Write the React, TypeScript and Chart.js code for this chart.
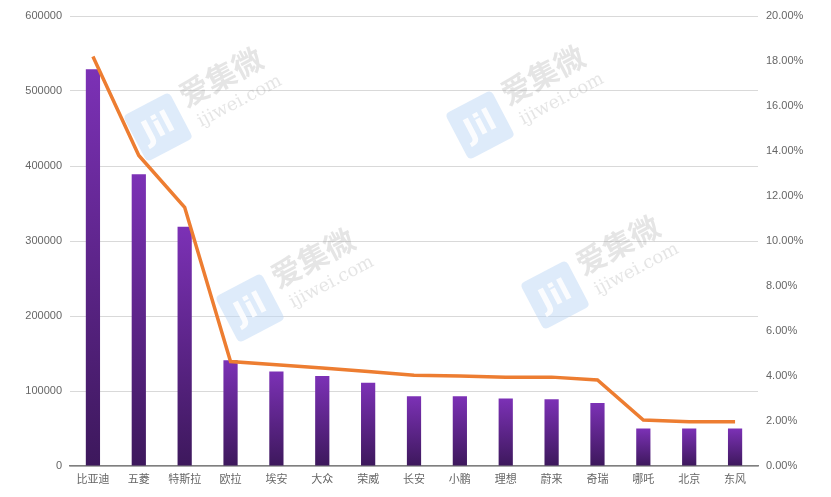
import React, { useEffect, useRef } from "react";
import { Chart, registerables } from "chart.js";

Chart.register(...registerables);

const categories = ["比亚迪", "五菱", "特斯拉", "欧拉", "埃安", "大众", "荣威", "长安", "小鹏", "理想", "蔚来", "奇瑞", "哪吒", "北京", "东风"];
const salesValues = [529000, 389000, 319000, 141000, 126000, 120000, 111000, 93000, 93000, 90000, 89000, 84000, 50000, 50000, 50000];
const shareValues = [18.2, 13.8, 11.5, 4.64, 4.5, 4.36, 4.2, 4.03, 4.0, 3.95, 3.95, 3.82, 2.04, 1.97, 1.97];
const leftTicks = [0, 100000, 200000, 300000, 400000, 500000, 600000];
const rightTicks = [0, 2, 4, 6, 8, 10, 12, 14, 16, 18, 20];

const FONT = "'Liberation Sans', 'Noto Sans CJK SC', sans-serif";

function drawWatermark(ctx: CanvasRenderingContext2D, cx: number, cy: number) {
  ctx.save();
  ctx.translate(cx, cy);
  ctx.rotate(-Math.PI / 6.5);
  const s = 52;
  ctx.fillStyle = "rgba(190, 216, 246, 0.5)";
  const r = 5;
  ctx.beginPath();
  ctx.moveTo(-s / 2 + r, -s / 2);
  ctx.lineTo(s / 2 - r, -s / 2);
  ctx.quadraticCurveTo(s / 2, -s / 2, s / 2, -s / 2 + r);
  ctx.lineTo(s / 2, s / 2 - r);
  ctx.quadraticCurveTo(s / 2, s / 2, s / 2 - r, s / 2);
  ctx.lineTo(-s / 2 + r, s / 2);
  ctx.quadraticCurveTo(-s / 2, s / 2, -s / 2, s / 2 - r);
  ctx.lineTo(-s / 2, -s / 2 + r);
  ctx.quadraticCurveTo(-s / 2, -s / 2, -s / 2 + r, -s / 2);
  ctx.fill();
  ctx.fillStyle = "rgba(255,255,255,0.9)";
  ctx.font = "bold 30px 'DejaVu Sans', sans-serif";
  ctx.textAlign = "center";
  ctx.textBaseline = "middle";
  ctx.fillText("Jil", 0, 2);
  ctx.fillStyle = "rgba(150,150,150,0.25)";
  ctx.textAlign = "left";
  ctx.textBaseline = "alphabetic";
  ctx.font = "bold 30px 'Noto Sans CJK SC', sans-serif";
  ctx.fillText("爱集微", 34, -4);
  ctx.font = "18px 'DejaVu Serif', serif";
  ctx.fillText("ijiwei.com", 38, 20);
  ctx.restore();
}

const watermarkPlugin = {
  id: "watermarks",
  beforeDatasetsDraw(chart: any) {
    const ctx = chart.ctx;
    drawWatermark(ctx, 158, 127);
    drawWatermark(ctx, 480, 125);
    drawWatermark(ctx, 250, 308);
    drawWatermark(ctx, 555, 295);
  },
};

export default function App() {
  const canvasRef = useRef<HTMLCanvasElement | null>(null);

  useEffect(() => {
    document.body.style.margin = "0";
    const canvas = canvasRef.current;
    if (!canvas) return;
    const chart = new Chart(canvas, {
      type: "bar",
      data: {
        labels: categories,
        datasets: [
          {
            type: "line",
            label: "占比",
            data: shareValues,
            yAxisID: "y1",
            borderColor: "#ED7D31",
            borderWidth: 3.5,
            pointRadius: 0,
            tension: 0,
            order: 0,
          } as any,
          {
            type: "bar",
            label: "销量",
            data: salesValues,
            yAxisID: "y",
            order: 1,
            barPercentage: 0.31,
            categoryPercentage: 1,
            backgroundColor: (context: any) => {
              const chart = context.chart;
              const yScale = chart.scales?.y;
              if (!yScale || context.raw == null) return "#6a2b9e";
              const top = yScale.getPixelForValue(context.raw);
              const bottom = yScale.getPixelForValue(0);
              if (!isFinite(top) || !isFinite(bottom) || top === bottom) return "#6a2b9e";
              const g = chart.ctx.createLinearGradient(0, top, 0, bottom);
              g.addColorStop(0, "#7C31B6");
              g.addColorStop(1, "#3D185C");
              return g;
            },
          } as any,
        ],
      },
      options: {
        animation: false,
        responsive: false,
        maintainAspectRatio: false,
        layout: { padding: { top: 16, left: 0, right: 0, bottom: 0 } },
        plugins: {
          legend: { display: false },
          tooltip: { enabled: false },
        },
        scales: {
          x: {
            grid: { display: false, drawTicks: false },
            border: { display: true, color: "#7f7f7f", width: 1.5 },
            ticks: {
              color: "#666666",
              font: { family: FONT, size: 11 },
              padding: 7,
              maxRotation: 0,
              autoSkip: false,
            },
            afterFit: (s: any) => {
              s.height = 31;
            },
          },
          y: {
            position: "left",
            min: 0,
            max: 600000,
            afterBuildTicks: (s: any) => {
              s.ticks = leftTicks.map((v) => ({ value: v }));
            },
            grid: { color: "#d9d9d9", lineWidth: 1, drawTicks: false },
            border: { display: false },
            ticks: {
              color: "#666666",
              font: { family: FONT, size: 11 },
              padding: 8,
              callback: (v: any) => String(v),
            },
            afterFit: (s: any) => {
              s.width = 70;
            },
          },
          y1: {
            position: "right",
            min: 0,
            max: 20,
            afterBuildTicks: (s: any) => {
              s.ticks = rightTicks.map((v) => ({ value: v }));
            },
            grid: { display: false, drawTicks: false },
            border: { display: false },
            ticks: {
              color: "#666666",
              font: { family: FONT, size: 11 },
              padding: 8,
              callback: (v: any) => Number(v).toFixed(2) + "%",
            },
            afterFit: (s: any) => {
              s.width = 73;
            },
          },
        },
      },
      plugins: [watermarkPlugin],
    });
    return () => chart.destroy();
  }, []);

  return (
    <div style={{ position: "fixed", left: 0, top: 0, width: 831, height: 497, background: "#fff" }}>
      <canvas ref={canvasRef} width={831} height={497} style={{ width: 831, height: 497 }} />
    </div>
  );
}
